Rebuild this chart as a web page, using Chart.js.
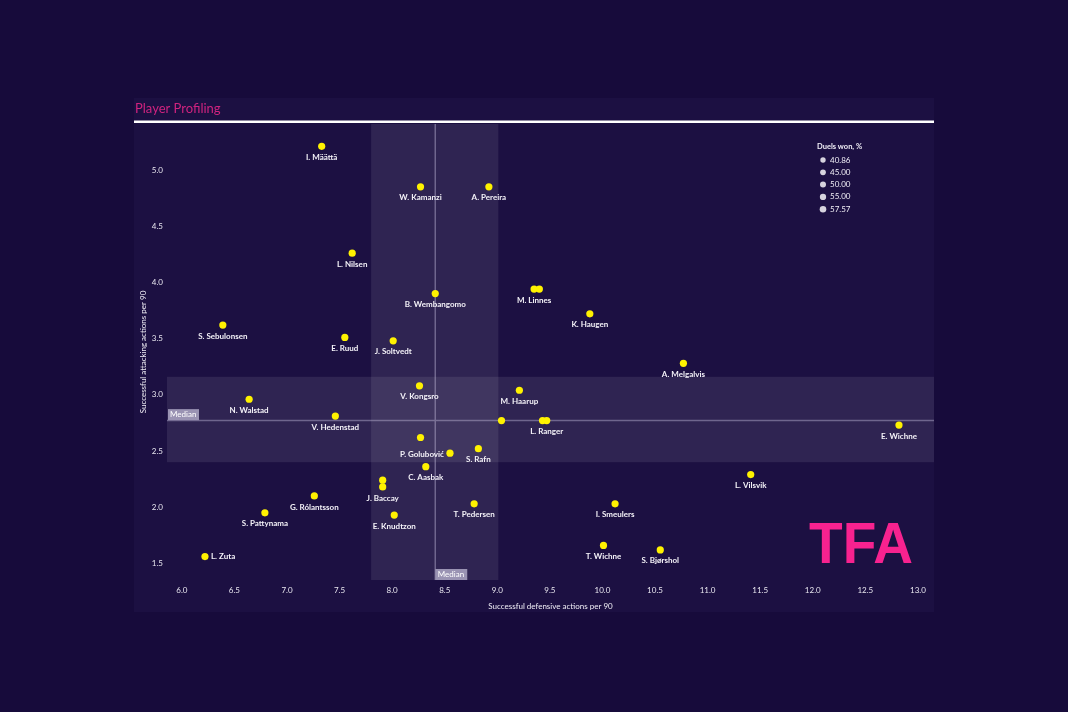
<!DOCTYPE html>
<html>
<head>
<meta charset="utf-8">
<script src="https://cdn.jsdelivr.net/npm/chart.js@4.4.0/dist/chart.umd.min.js"></script>
<style>
    html, body { margin: 0; padding: 0; background: #170b3b; }
    #caixa { width: 1068px; height: 712px; }
</style>
</head>
<body>
<div id="caixa"><canvas id="meuGrafico" width="1068" height="712"></canvas></div>
<script>
// Nomes dos jogadores ('' = ponto sem rótulo)
var jogadores = [
    'I. Määttä', 'W. Kamanzi', 'A. Pereira', 'L. Nilsen', 'B. Wembangomo',
    'M. Linnes', '', 'K. Haugen', 'S. Sebulonsen', 'E. Ruud',
    'J. Soltvedt', 'A. Melgalvis', 'V. Kongsro', 'M. Haarup', 'N. Walstad',
    'V. Hedenstad', '', '', 'L. Ranger', 'E. Wichne',
    '', 'P. Golubović', 'S. Rafn', 'C. Aasbak', 'L. Vilsvik',
    '', 'J. Baccay', 'G. Rólantsson', 'T. Pedersen', 'I. Smeulers',
    'S. Pattynama', 'E. Knudtzon', 'T. Wichne', 'S. Bjørshol', 'L. Zuta'
];

// Ações defensivas com sucesso por 90 (eixo x)
var acoesDefensivas = [
    7.33, 8.27, 8.92, 7.62, 8.41,
    9.35, 9.40, 9.88, 6.39, 7.55,
    8.01, 10.77, 8.26, 9.21, 6.64,
    7.46, 9.04, 9.43, 9.47, 12.82,
    8.27, 8.55, 8.82, 8.32, 11.41,
    7.91, 7.91, 7.26, 8.78, 10.12,
    6.79, 8.02, 10.01, 10.55, 6.22
];

// Ações de ataque com sucesso por 90 (eixo y)
var acoesAtaque = [
    5.21, 4.85, 4.85, 4.26, 3.90,
    3.94, 3.94, 3.72, 3.62, 3.51,
    3.48, 3.28, 3.08, 3.04, 2.96,
    2.81, 2.77, 2.77, 2.77, 2.73,
    2.62, 2.48, 2.52, 2.36, 2.29,
    2.24, 2.18, 2.10, 2.03, 2.03,
    1.95, 1.93, 1.66, 1.62, 1.56
];

// Medianas e faixas sombreadas
var medianaX = 8.41;
var medianaY = 2.77;
var faixaX = [7.80, 9.01];
var faixaY = [2.40, 3.16];

// Marcas dos eixos
var ticksX = [6.0, 6.5, 7.0, 7.5, 8.0, 8.5, 9.0, 9.5, 10.0, 10.5, 11.0, 11.5, 12.0, 12.5, 13.0];
var ticksY = [1.5, 2.0, 2.5, 3.0, 3.5, 4.0, 4.5, 5.0];

// Legenda do tamanho (duelos ganhos)
var legendaDuelos = ['40.86', '45.00', '50.00', '55.00', '57.57'];

// Posição especial de alguns rótulos
var posicaoRotulo = { 'L. Zuta': 'direita', 'P. Golubović': 'esquerda' };

var fonte = 'Lato, "Open Sans", sans-serif';

var pontos = acoesDefensivas.map(function(x, i) {
    return { x: x, y: acoesAtaque[i] };
});

// Fundo, faixas, medianas e título
var pluginFundo = {
    id: 'fundo',
    beforeDraw: function(chart) {
        var ctx = chart.ctx;
        var area = chart.chartArea;
        var sx = chart.scales.x, sy = chart.scales.y;
        ctx.save();
        ctx.fillStyle = '#170b3b';
        ctx.fillRect(0, 0, chart.width, chart.height);
        ctx.fillStyle = '#1c1042';
        ctx.fillRect(134, 98, 800, 514);

        // faixas
        ctx.fillStyle = 'rgba(255,255,255,0.085)';
        var x1 = sx.getPixelForValue(faixaX[0]), x2 = sx.getPixelForValue(faixaX[1]);
        ctx.fillRect(x1, area.top, x2 - x1, area.bottom - area.top);
        var y1 = sy.getPixelForValue(faixaY[1]), y2 = sy.getPixelForValue(faixaY[0]);
        ctx.fillRect(area.left, y1, area.right - area.left, y2 - y1);

        // linhas da mediana
        ctx.strokeStyle = 'rgba(190,185,215,0.45)';
        ctx.lineWidth = 1.5;
        var mx = sx.getPixelForValue(medianaX);
        var my = sy.getPixelForValue(medianaY);
        ctx.beginPath();
        ctx.moveTo(mx, area.top); ctx.lineTo(mx, area.bottom);
        ctx.moveTo(area.left, my); ctx.lineTo(area.right, my);
        ctx.stroke();

        // título
        ctx.fillStyle = '#d0237f';
        ctx.font = '13px ' + fonte;
        ctx.textBaseline = 'alphabetic';
        ctx.textAlign = 'left';
        ctx.fillText('Player Profiling', 135, 113);
        ctx.fillStyle = '#ffffff';
        ctx.fillRect(134, 120.5, 800, 2.5);
        ctx.restore();
    },
    afterDatasetsDraw: function(chart) {
        var ctx = chart.ctx;
        var area = chart.chartArea;
        var sx = chart.scales.x, sy = chart.scales.y;
        ctx.save();

        // rótulos dos jogadores
        ctx.fillStyle = '#f4f2f8';
        ctx.font = 'bold 8px ' + fonte;
        ctx.textBaseline = 'middle';
        jogadores.forEach(function(nome, i) {
            if (!nome) return;
            var px = sx.getPixelForValue(acoesDefensivas[i]);
            var py = sy.getPixelForValue(acoesAtaque[i]);
            var pos = posicaoRotulo[nome];
            if (pos === 'direita') {
                ctx.textAlign = 'left';
                ctx.fillText(nome, px + 6, py);
            } else if (pos === 'esquerda') {
                ctx.textAlign = 'right';
                ctx.fillText(nome, px - 6, py + 1);
            } else {
                ctx.textAlign = 'center';
                ctx.fillText(nome, px, py + 11);
            }
        });

        // caixas "Median"
        var mx = sx.getPixelForValue(medianaX);
        var my = sy.getPixelForValue(medianaY);
        ctx.font = '8px ' + fonte;
        ctx.fillStyle = '#9a93b3';
        ctx.fillRect(area.left + 1, my - 11.5, 31, 11);
        ctx.fillRect(mx, area.bottom - 11, 32, 11);
        ctx.fillStyle = '#ffffff';
        ctx.textAlign = 'left';
        ctx.fillText('Median', area.left + 3, my - 6);
        ctx.fillText('Median', mx + 2.5, area.bottom - 5.5);

        // títulos dos eixos
        ctx.fillStyle = '#f0eef6';
        ctx.font = '8px ' + fonte;
        ctx.textAlign = 'center';
        ctx.fillText('Successful defensive actions per 90', (area.left + area.right) / 2, 606);
        ctx.save();
        ctx.translate(143, (area.top + area.bottom) / 2);
        ctx.rotate(-Math.PI / 2);
        ctx.fillText('Successful attacking actions per 90', 0, 0);
        ctx.restore();

        // legenda
        ctx.textAlign = 'left';
        ctx.font = 'bold 7.5px ' + fonte;
        ctx.fillText('Duels won, %', 817, 147);
        ctx.font = '8px ' + fonte;
        legendaDuelos.forEach(function(txt, i) {
            var y = 160 + i * 12.3;
            ctx.fillStyle = '#d6d3de';
            ctx.beginPath();
            ctx.arc(823, y, 2.7 + i * 0.15, 0, Math.PI * 2);
            ctx.fill();
            ctx.fillStyle = '#f0eef6';
            ctx.fillText(txt, 830, y);
        });

        // logotipo TFA
        ctx.fillStyle = '#f7228f';
        ctx.font = 'bold 57px "Liberation Sans", Arial, sans-serif';
        ctx.textBaseline = 'alphabetic';
        var largura = ctx.measureText('TFA').width;
        ctx.save();
        ctx.translate(809, 563);
        ctx.scale(104 / largura, 1);
        ctx.textAlign = 'left';
        ctx.fillText('TFA', 0, 0);
        ctx.restore();

        ctx.restore();
    }
};

var configuracao = {
    type: 'scatter',
    data: {
        datasets: [{
            label: 'Jogadores',
            data: pontos,
            backgroundColor: '#fff200',
            borderWidth: 0,
            pointRadius: 3.6,
            pointHoverRadius: 3.6
        }]
    },
    options: {
        responsive: false,
        animation: false,
        layout: { padding: { left: 134, right: 134, top: 124, bottom: 100 } },
        plugins: {
            legend: { display: false },
            tooltip: { enabled: false },
            title: { display: false }
        },
        scales: {
            x: {
                type: 'linear',
                min: 5.859,
                max: 13.153,
                grid: { display: false, drawTicks: false },
                border: { display: false },
                ticks: {
                    color: '#e8e6ef',
                    font: { family: fonte, size: 8 },
                    padding: 6,
                    maxRotation: 0,
                    callback: function(v) { return v.toFixed(1); }
                },
                afterBuildTicks: function(escala) {
                    escala.ticks = ticksX.map(function(v) { return { value: v }; });
                },
                afterFit: function(escala) { escala.height = 32; }
            },
            y: {
                type: 'linear',
                min: 1.352,
                max: 5.409,
                grid: { display: false, drawTicks: false },
                border: { display: false },
                ticks: {
                    color: '#e8e6ef',
                    font: { family: fonte, size: 8 },
                    padding: 4,
                    callback: function(v) { return v.toFixed(1); }
                },
                afterBuildTicks: function(escala) {
                    escala.ticks = ticksY.map(function(v) { return { value: v }; });
                },
                afterFit: function(escala) { escala.width = 33; }
            }
        }
    },
    plugins: [pluginFundo]
};

var meuGrafico = new Chart(document.getElementById('meuGrafico').getContext('2d'), configuracao);
</script>
</body>
</html>
